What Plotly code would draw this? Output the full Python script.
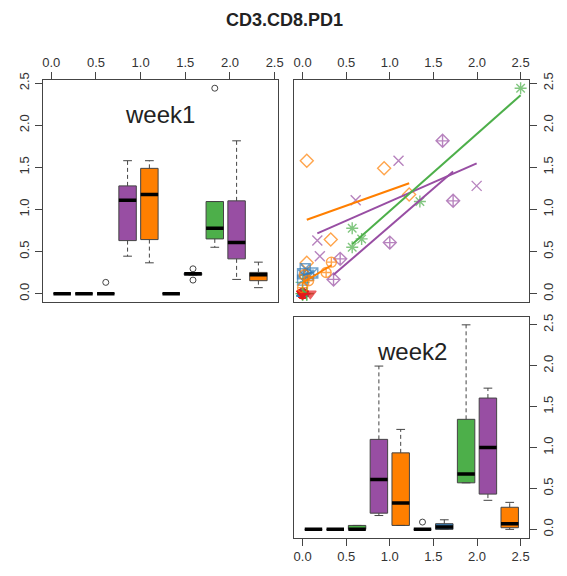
import numpy as np
import plotly.graph_objects as go

# ---------------- data ----------------
group = [1]*5 + [2]*5 + [3]*5 + [4]*5 + [5]*5 + [6]*5 + [7]*5 + [8]*5 + [9]*5 + [10]*5
week1 = [0, 0, 0, 0, 0,
         0, 0, 0, 0, 0,
         0.134, 0, 0, 0, 0,
         1.579, 1.11, 0.63, 0.445, 1.28,
         1.579, 1.488, 0.642, 0.366, 1.177,
         0, 0, 0, 0, 0,
         0.236, 0.295, 0.22, 0.245, 0.161,
         2.44, 1.094, 0.776, 0.65, 0.551,
         1.815, 1.102, 0.606, 0.413, 0.169,
         0.374, 0.252, 0.224, 0.154, 0.071]
week2 = [0, 0, 0, 0, 0,
         0, 0, 0, 0, 0,
         0, 0, 0, 0.048, 0.048,
         1.10, 0.609, 0.169, 0.198, 1.996,
         0.048, 0.935, 0.323, 0.048, 1.222,
         0, 0, 0, 0, 0.089,
         0, 0.03, 0.069, 0.117, 0,
         2.5, 1.345, 0.569, 0.677, 0.569,
         1.605, 1.726, 1.0, 0.431, 0.355,
         0.33, 0.27, 0.02, 0.069, 0]
group_colors = ["#E41A1C", "#377EB8", "#4DAF4A", "#984EA3", "#FF7F00",
                "#E41A1C", "#377EB8", "#4DAF4A", "#984EA3", "#FF7F00"]
group_symbols = ["circle-open", "triangle-up-open", "cross-thin-open", "x-thin-open",
                 "diamond-open", "triangle-down", "square-x-open", "asterisk-open",
                 "diamond-cross-open", "circle-cross-open"]
var_labels = ["week1", "week2"]
title_text = "CD3.CD8.PD1"
tick_vals = [0.0, 0.5, 1.0, 1.5, 2.0, 2.5]

# ---------------- helpers ----------------
group = np.array(group)
w1 = np.array(week1, dtype=float)
w2 = np.array(week2, dtype=float)
groups = sorted(set(group.tolist()))
ng = len(groups)

FONT = "Liberation Sans, Arial, sans-serif"
TXT = "#333333"
EDGE = "#444444"


def fivenum(x):
    x = np.sort(np.asarray(x, dtype=float))
    n = len(x)
    n4 = np.floor((n + 3) / 2) / 2
    d = np.array([1, n4, (n + 1) / 2, n + 1 - n4, n]) - 1
    return 0.5 * (x[np.floor(d).astype(int)] + x[np.ceil(d).astype(int)])


def boxstats(x):
    x = np.asarray(x, dtype=float)
    lo, q1, med, q3, hi = fivenum(x)
    iqr = q3 - q1
    inside = x[(x >= q1 - 1.5 * iqr) & (x <= q3 + 1.5 * iqr)]
    wl, wh = inside.min(), inside.max()
    out = x[(x < q1 - 1.5 * iqr) | (x > q3 + 1.5 * iqr)]
    return q1, med, q3, wl, wh, out


def ext(v):
    lo, hi = float(np.min(v)), float(np.max(v))
    d = (hi - lo) * 0.04
    return [lo - d, hi + d]


r1 = ext(w1)
r2 = ext(w2)
rbox = [0.5 - 0.04 * ng, ng + 0.5 + 0.04 * ng]

fig = go.Figure()


def add_boxes(values, xrange_, xa, ya):
    # map box slot units (1..ng, R boxplot coordinates) onto the panel's data axis
    k = (xrange_[1] - xrange_[0]) / (rbox[1] - rbox[0])
    slot = lambda u: xrange_[0] + (u - rbox[0]) * k
    wx, wy, sx, sy, mx, my, ox, oy = [], [], [], [], [], [], [], []
    for i, g in enumerate(groups):
        pos = i + 1
        q1, med, q3, wl, wh, out = boxstats(values[group == g])
        L, R, C = slot(pos - 0.4), slot(pos + 0.4), slot(pos)
        sl, sr = slot(pos - 0.2), slot(pos + 0.2)
        fig.add_trace(go.Scatter(
            x=[L, R, R, L, L], y=[q1, q1, q3, q3, q1], mode="lines", fill="toself",
            fillcolor=group_colors[i], line=dict(color=EDGE, width=1),
            xaxis=xa, yaxis=ya, showlegend=False, hoverinfo="skip"))
        wx += [C, C, None, C, C, None]
        wy += [q3, wh, None, q1, wl, None]
        sx += [sl, sr, None, sl, sr, None]
        sy += [wh, wh, None, wl, wl, None]
        mx += [L, R, None]
        my += [med, med, None]
        ox += [C] * len(out)
        oy += list(out)
    fig.add_trace(go.Scatter(x=wx, y=wy, mode="lines",
                             line=dict(color=EDGE, width=1, dash="4px,3px"),
                             xaxis=xa, yaxis=ya, showlegend=False, hoverinfo="skip"))
    fig.add_trace(go.Scatter(x=sx, y=sy, mode="lines",
                             line=dict(color=EDGE, width=1),
                             xaxis=xa, yaxis=ya, showlegend=False, hoverinfo="skip"))
    fig.add_trace(go.Scatter(x=mx, y=my, mode="lines",
                             line=dict(color="black", width=3.5),
                             xaxis=xa, yaxis=ya, showlegend=False, hoverinfo="skip"))
    fig.add_trace(go.Scatter(x=ox, y=oy, mode="markers",
                             marker=dict(symbol="circle-open", size=6,
                                         color=EDGE, line=dict(width=1)),
                             xaxis=xa, yaxis=ya, showlegend=False, hoverinfo="skip"))


# panel 1: week1 boxplots
add_boxes(w1, r1, "x", "y")
# panel 3: week2 boxplots
add_boxes(w2, r2, "x3", "y3")

# panel 2: scatter week2 (x) vs week1 (y)
for i, g in enumerate(groups):
    m = group == g
    fig.add_trace(go.Scatter(
        x=w2[m], y=w1[m], mode="markers",
        marker=dict(symbol=group_symbols[i], size=10, color=group_colors[i],
                    opacity=0.7, line=dict(width=1.4, color=group_colors[i])),
        xaxis="x2", yaxis="y2", showlegend=False))
for i, g in enumerate(groups):
    m = group == g
    xs, ys = w2[m], w1[m]
    if np.ptp(xs) > 0:
        b, a = np.polyfit(xs, ys, 1)
        xl = np.array([xs.min(), xs.max()])
        fig.add_trace(go.Scatter(
            x=xl, y=a + b * xl, mode="lines",
            line=dict(color=group_colors[i], width=2),
            xaxis="x2", yaxis="y2", showlegend=False, hoverinfo="skip"))

W, H = 567, 576
px = lambda a, b: [a / W, b / W]
py = lambda top, bot: [1 - bot / H, 1 - top / H]
dx1, dx2 = px(43, 281), px(297, 535)
dy1, dy2 = py(73, 298), py(313, 537)

axis_common = dict(showgrid=False, zeroline=False, showline=True, mirror=True,
                   linecolor=EDGE, linewidth=1, ticks="outside", ticklen=7,
                   tickwidth=1, tickcolor=EDGE, tickvals=tick_vals, tickformat=".1f",
                   tickfont=dict(family=FONT, size=13, color=TXT))

fig.update_layout(
    width=W, height=H, margin=dict(l=0, r=0, t=0, b=0),
    paper_bgcolor="white", plot_bgcolor="white",
    xaxis=dict(domain=dx1, range=r1, side="top", anchor="y", **axis_common),
    yaxis=dict(domain=dy1, range=r1, side="left", anchor="x", tickangle=-90, **axis_common),
    xaxis2=dict(domain=dx2, range=r2, side="top", anchor="y2", **axis_common),
    yaxis2=dict(domain=dy1, range=r1, side="right", anchor="x2", tickangle=-90, **axis_common),
    xaxis3=dict(domain=dx2, range=r2, side="bottom", anchor="y3", **axis_common),
    yaxis3=dict(domain=dy2, range=r2, side="right", anchor="x3", tickangle=-90, **axis_common),
)

fig.add_annotation(text=var_labels[0], xref="paper", yref="paper",
                   x=(dx1[0] + dx1[1]) / 2, y=1 - 108 / H, xanchor="center", yanchor="middle",
                   showarrow=False, font=dict(family=FONT, size=24, color="#222222"))
fig.add_annotation(text=var_labels[1], xref="paper", yref="paper",
                   x=(dx2[0] + dx2[1]) / 2, y=1 - 348 / H, xanchor="center", yanchor="middle",
                   showarrow=False, font=dict(family=FONT, size=24, color="#222222"))
fig.add_annotation(text="<b>" + title_text + "</b>", xref="paper", yref="paper",
                   x=288 / W, y=1 - 12 / H, xanchor="center", yanchor="middle",
                   showarrow=False, font=dict(family=FONT, size=18, color="#222222"))

fig.write_html("out.html")
